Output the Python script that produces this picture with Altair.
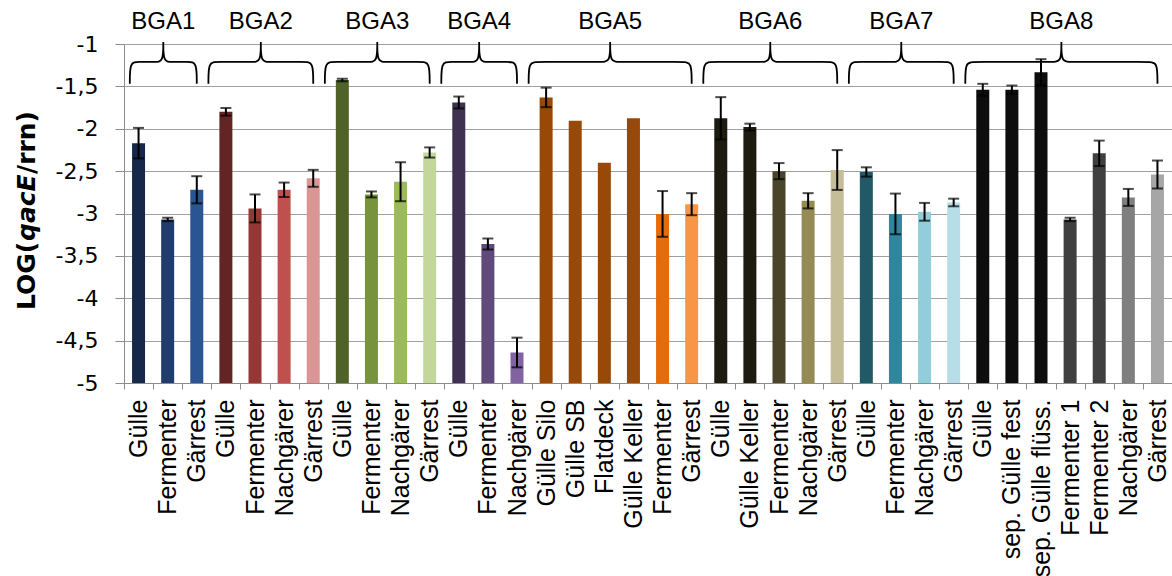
import altair as alt
import pandas as pd

groups = ["BGA1", "BGA2", "BGA3", "BGA4", "BGA5", "BGA6", "BGA7", "BGA8"]
group_sizes = [3, 4, 4, 3, 6, 5, 4, 7]

categories = [
    "Gülle", "Fermenter", "Gärrest",
    "Gülle", "Fermenter", "Nachgärer", "Gärrest",
    "Gülle", "Fermenter", "Nachgärer", "Gärrest",
    "Gülle", "Fermenter", "Nachgärer",
    "Gülle Silo", "Gülle SB", "Flatdeck", "Gülle Keller", "Fermenter", "Gärrest",
    "Gülle", "Gülle Keller", "Fermenter", "Nachgärer", "Gärrest",
    "Gülle", "Fermenter", "Nachgärer", "Gärrest",
    "Gülle", "sep. Gülle fest", "sep. Gülle flüss.", "Fermenter 1", "Fermenter 2", "Nachgärer", "Gärrest",
]

values = [
    -2.17, -3.07, -2.72,
    -1.80, -2.94, -2.72, -2.585,
    -1.425, -2.775, -2.625, -2.28,
    -1.69, -3.36, -4.64,
    -1.63, -1.905, -2.40, -1.877, -3.005, -2.89,
    -1.877, -1.98, -2.50, -2.85, -2.487,
    -2.51, -3.005, -2.98, -2.87,
    -1.54, -1.54, -1.334, -3.07, -2.29, -2.81, -2.54,
]

errors = [
    0.18, 0.02, 0.16,
    0.045, 0.165, 0.085, 0.10,
    0.015, 0.035, 0.23, 0.06,
    0.07, 0.065, 0.175,
    0.115, 0.0, 0.0, 0.0, 0.27, 0.13,
    0.25, 0.04, 0.095, 0.09, 0.235,
    0.055, 0.24, 0.105, 0.045,
    0.07, 0.05, 0.155, 0.02, 0.15, 0.10, 0.165,
]

colors = [
    "#16294b", "#1f3c6c", "#2a5592",
    "#632523", "#953735", "#c0504d", "#da9694",
    "#4f6228", "#77933c", "#9bbb59", "#c4d79b",
    "#3f3151", "#604a7b", "#8064a2",
    "#984807", "#984807", "#984807", "#984807", "#e46c0a", "#f79646",
    "#1d1b10", "#1d1b10", "#4a452a", "#948a54", "#c4bd97",
    "#215967", "#31859c", "#92cddc", "#b7dee8",
    "#0d0d0d", "#0d0d0d", "#0d0d0d", "#404040", "#404040", "#7f7f7f", "#a6a6a6",
]

y_ticks = [-5, -4.5, -4, -3.5, -3, -2.5, -2, -1.5, -1]

N = len(categories)
W, H = 1048, 339
font_x = "Liberation Sans"
font_y = "DejaVu Sans"

df = pd.DataFrame({
    "idx": list(range(N)),
    "cat": categories,
    "val": values,
    "err": errors,
    "col": colors,
})
df["lo"] = df["val"] - df["err"]
df["hi"] = df["val"] + df["err"]
df_err = df[df["err"] > 0].copy()
caps = pd.concat([
    df_err[["idx"]].assign(cap=df_err["lo"]),
    df_err[["idx"]].assign(cap=df_err["hi"]),
])

y_scale = alt.Scale(domain=[-5, -1], zero=False, nice=False)
x_band = alt.Scale(domain=list(range(N)), paddingInner=0, paddingOuter=0)

label_expr = "[" + ",".join("'" + c + "'" for c in categories) + "][datum.value]"

x_axis = alt.Axis(
    title=None, labelExpr=label_expr, tickBand="extent", tickSize=6,
    tickColor="#8c8c8c", domainColor="#8c8c8c", labelAngle=270,
    labelFont=font_x, labelFontSize=25, labelColor="black",
    labelPadding=10, labelLimit=300, labelOverlap=False, grid=False)
y_axis = alt.Axis(
    title=None, values=y_ticks,
    labelExpr="replace(toString(datum.value), '.', ',')",
    labelFont=font_y, labelFontSize=22, labelColor="black",
    tickSize=9, tickColor="#8c8c8c", domainColor="#8c8c8c",
    grid=True, gridColor="#a0a0a0", gridWidth=1, labelPadding=17)

bars = alt.Chart(df).mark_bar(size=13).encode(
    x=alt.X("idx:O", scale=x_band, axis=x_axis),
    y=alt.Y("val:Q", scale=y_scale, axis=y_axis),
    y2=alt.datum(-5),
    color=alt.Color("col:N", scale=None),
)

rules = alt.Chart(df_err).mark_rule(color="black", strokeWidth=2).encode(
    x=alt.X("idx:O", scale=x_band, axis=x_axis),
    y=alt.Y("lo:Q", scale=y_scale, axis=y_axis),
    y2="hi:Q",
)

cap_marks = alt.Chart(caps).mark_tick(color="black", size=11, thickness=2).encode(
    x=alt.X("idx:O", scale=x_band, axis=x_axis),
    y=alt.Y("cap:Q", scale=y_scale, axis=y_axis),
)

inner = alt.layer(bars, rules, cap_marks)

# braces (annotations spanning each group's bars)
y_tip, y_hor, y_peak = -1.47, -1.212, -0.975
cw = 0.28
brace_rows = []
label_rows = []
start = 0
for g, n in zip(groups, group_sizes):
    L = start - 0.1 if start > 0 else 0.2
    R = start + n - 0.5
    M = (L + R) / 2
    pts = [
        (L, y_tip), (L, y_tip), (L, y_hor), (L + cw, y_hor), (M - cw, y_hor), (M, y_hor),
        (M, y_peak), (M, y_peak), (M, y_peak),
        (M, y_hor), (M + cw, y_hor), (R - cw, y_hor), (R, y_hor), (R, y_tip), (R, y_tip),
    ]
    for k, (px, py) in enumerate(pts):
        brace_rows.append({"gid": g, "ord": k, "bx": px, "by": py})
    label_rows.append({"gid": g, "mx": M, "ly": -0.74})
    start += n

df_brace = pd.DataFrame(brace_rows)
df_lab = pd.DataFrame(label_rows)
x_q = alt.Scale(domain=[0, N], nice=False, zero=False)

braces = alt.Chart(df_brace).mark_line(color="black", strokeWidth=1.8, interpolate="basis").encode(
    x=alt.X("bx:Q", scale=x_q, axis=None),
    y=alt.Y("by:Q", scale=y_scale, axis=y_axis),
    detail="gid:N",
    order="ord:Q",
)

glabels = alt.Chart(df_lab).mark_text(
    font=font_x, fontSize=24, color="black", align="center", baseline="middle"
).encode(
    x=alt.X("mx:Q", scale=x_q, axis=None),
    y=alt.Y("ly:Q", scale=y_scale, axis=y_axis),
    text="gid:N",
)

# y axis title with italic gene name
one = pd.DataFrame({"a": [0]})
title_parts = [("LOG(", "normal", 266), ("qacE", "italic", 197), ("/rrn)", "normal", 130)]
title_layers = []
for txt, style, ypos in title_parts:
    title_layers.append(
        alt.Chart(one).mark_text(
            text=txt, font=font_y, fontSize=25, fontWeight="bold", fontStyle=style,
            angle=270, align="left", baseline="middle", color="black"
        ).encode(x=alt.value(-97), y=alt.value(ypos))
    )

chart = alt.layer(inner, braces, glabels, *title_layers).resolve_scale(
    x="independent"
).properties(
    width=W, height=H,
    autosize=alt.AutoSizeParams(type="none"),
    padding={"left": 124, "top": 44, "right": 0, "bottom": 193},
).configure_view(strokeWidth=0, stroke="transparent").configure(background="white")

chart.save("out.html", embed_options={"renderer": "svg", "actions": False})
